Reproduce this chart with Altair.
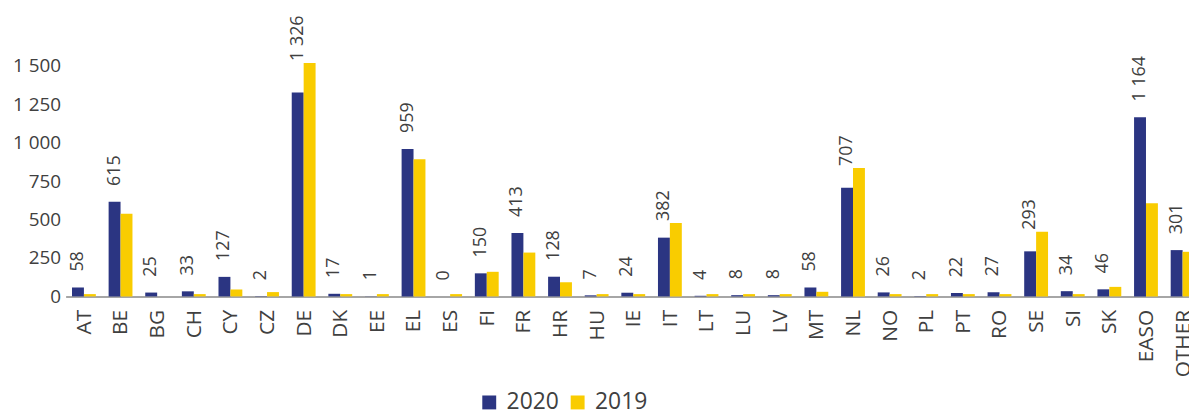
import altair as alt
import pandas as pd

countries = ["AT", "BE", "BG", "CH", "CY", "CZ", "DE", "DK", "EE", "EL", "ES", "FI",
             "FR", "HR", "HU", "IE", "IT", "LT", "LU", "LV", "MT", "NL", "NO", "PL",
             "PT", "RO", "SE", "SI", "SK", "EASO", "OTHER"]
values_2020 = [58, 615, 25, 33, 127, 2, 1326, 17, 1, 959, 0, 150,
               413, 128, 7, 24, 382, 4, 8, 8, 58, 707, 26, 2,
               22, 27, 293, 34, 46, 1164, 301]
values_2019 = [15, 537, 0, 15, 45, 28, 1518, 15, 15, 892, 15, 160,
               285, 92, 15, 15, 478, 15, 15, 15, 30, 835, 15, 15,
               15, 15, 420, 15, 62, 605, 290]
series = ["2020", "2019"]
colors = ["#2B3582", "#F9CC00"]
y_ticks = [0, 250, 500, 750, 1000, 1250, 1500]

FONT = "Open Sans"
TEXT_COLOR = "#404040"
PLOT_H = 271
Y_MAX = 1750
PX = PLOT_H / Y_MAX  # pixels per unit

rows = []
for c, a, b in zip(countries, values_2020, values_2019):
    rows.append({"country": c, "series": "2020", "value": a})
    rows.append({"country": c, "series": "2019", "value": b})
bars_df = pd.DataFrame(rows)


def fmt(v):
    return f"{v:,}".replace(",", " ")


label_df = pd.DataFrame({
    "country": countries,
    "series": ["2020"] * len(countries),
    "label": [fmt(v) for v in values_2020],
    "pos": [max(a + 16 / PX, b + 2 / PX) for a, b in zip(values_2020, values_2019)],
})

x_enc = alt.X(
    "country:N", sort=countries,
    scale=alt.Scale(range=[0, 1143], paddingInner=0.349, paddingOuter=0.1745),
    axis=alt.Axis(title=None, labelAngle=270, ticks=False, labelPadding=13,
                  domainColor="#898989", domainWidth=1.5, labelFontSize=21,
                  labelColor=TEXT_COLOR, labelFont=FONT, labelOffset=1),
)
xoff_enc = alt.XOffset("series:N", sort=series,
                       scale=alt.Scale(domain=series, paddingInner=0, paddingOuter=0))

bars = alt.Chart(bars_df).mark_bar().encode(
    x=x_enc,
    xOffset=xoff_enc,
    y=alt.Y("value:Q", scale=alt.Scale(domain=[0, Y_MAX], nice=False),
            axis=alt.Axis(title=None, values=y_ticks, grid=False, domain=False,
                          ticks=False, labelPadding=5, labelFontSize=19,
                          labelColor=TEXT_COLOR, labelFont=FONT,
                          labelExpr="replace(format(datum.value, ','), ',', ' ')")),
    color=alt.Color("series:N", sort=series,
                    scale=alt.Scale(domain=series, range=colors),
                    legend=alt.Legend(title=None, orient="none", legendX=415, legendY=366,
                                      direction="horizontal", symbolType="square",
                                      symbolSize=196, symbolStrokeWidth=0,
                                      labelFontSize=23, labelFont=FONT,
                                      labelColor=TEXT_COLOR, labelOffset=6,
                                      columnPadding=7, padding=0)),
)

labels = alt.Chart(label_df).mark_text(
    angle=270, align="left", baseline="middle", fontSize=18, font=FONT, color=TEXT_COLOR
).encode(
    x=alt.X("country:N", sort=countries),
    xOffset=alt.XOffset("series:N", sort=series),
    y=alt.Y("pos:Q"),
    text="label:N",
)

chart = alt.layer(bars, labels).properties(
    width=1131, height=PLOT_H,
    padding={"left": 58, "top": 18, "right": 0, "bottom": 113},
    autosize="none",
).configure_view(stroke=None)

chart.save("out.html", embed_options={"renderer": "svg", "actions": False})
